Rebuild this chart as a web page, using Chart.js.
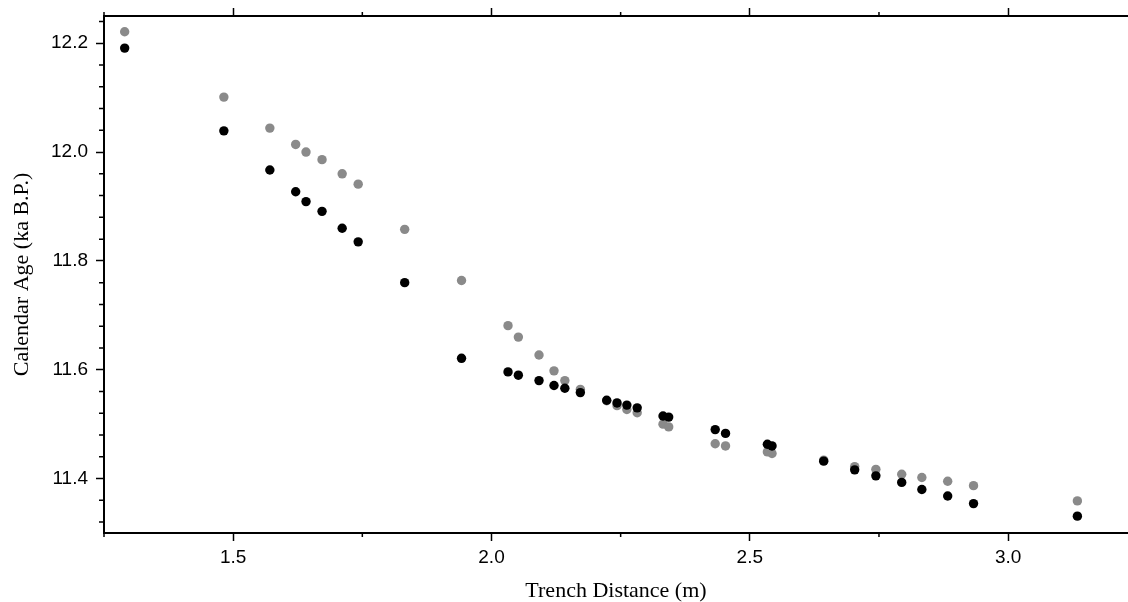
<!DOCTYPE html>
<html>
<head>
<meta charset="utf-8">
<script src="https://cdn.jsdelivr.net/npm/chart.js@4"></script>
<style>
  html, body { margin: 0; padding: 0; background: #fff; }
  #wrap { width: 1128px; height: 602px; position: relative; }
</style>
</head>
<body>
<div id="wrap"><canvas id="chart"></canvas></div>
<script>
// trench distance (m), shared by both series
const distance = [1.290, 1.482, 1.571, 1.621, 1.641, 1.672, 1.711, 1.742, 1.832, 1.942,
  2.032, 2.052, 2.092, 2.121, 2.142, 2.172, 2.223, 2.243, 2.262, 2.282,
  2.332, 2.343, 2.433, 2.453, 2.534, 2.543, 2.643, 2.703, 2.744, 2.794,
  2.833, 2.883, 2.933, 3.134]

// calendar age (ka B.P.)
const ageGray = [12.221, 12.101, 12.044, 12.014, 12.000, 11.986, 11.960, 11.941, 11.858, 11.764,
  11.681, 11.660, 11.627, 11.598, 11.580, 11.564, 11.543, 11.534, 11.527, 11.521,
  11.500, 11.495, 11.464, 11.460, 11.449, 11.446, 11.434, 11.422, 11.417, 11.408,
  11.402, 11.395, 11.387, 11.359]

const ageBlack = [12.191, 12.039, 11.967, 11.927, 11.909, 11.891, 11.860, 11.835, 11.760, 11.621,
  11.596, 11.590, 11.580, 11.571, 11.566, 11.558, 11.544, 11.539, 11.535, 11.530,
  11.515, 11.513, 11.490, 11.483, 11.463, 11.460, 11.432, 11.416, 11.405, 11.393,
  11.380, 11.368, 11.354, 11.331]

// axis ticks
const xTicks = [1.5, 2.0, 2.5, 3.0]
const xMinorTicks = [1.25, 1.75, 2.25, 2.75]
const yTicks = [11.4, 11.6, 11.8, 12.0, 12.2]
const yMinorTicks = [11.32, 11.36, 11.44, 11.48, 11.52, 11.56, 11.64, 11.68, 11.72, 11.76,
  11.84, 11.88, 11.92, 11.96, 12.04, 12.08, 12.12, 12.16, 12.24]

const X_MIN = 1.25, X_MAX = 3.232
const Y_MIN = 11.30, Y_MAX = 12.25

const toPoints = ys => distance.map((x, i) => ({ x, y: ys[i] }))

const tickFont = { family: 'Liberation Sans', size: 19 }
const titleFont = { family: 'Liberation Serif', size: 22, lineHeight: 1 }

// small ticks between the labelled ones
const minorTicks = {
  id: 'minorTicks',
  afterDraw(chart) {
    const { ctx, chartArea, scales } = chart
    ctx.save()
    ctx.strokeStyle = '#000'
    ctx.lineWidth = 1.5
    ctx.beginPath()
    xMinorTicks.forEach(v => {
      const px = scales.x.getPixelForValue(v)
      ctx.moveTo(px, chartArea.bottom)
      ctx.lineTo(px, chartArea.bottom + 4)
      ctx.moveTo(px, chartArea.top)
      ctx.lineTo(px, chartArea.top - 4)
    })
    yMinorTicks.forEach(v => {
      const py = scales.y.getPixelForValue(v)
      ctx.moveTo(chartArea.left, py)
      ctx.lineTo(chartArea.left - 5, py)
    })
    ctx.stroke()
    ctx.restore()
  }
}

const setTicks = list => scale => { scale.ticks = list.map(value => ({ value })) }

// fixed axis sizes, no extra room for label overhang
const fixSize = (w, h) => scale => {
  if (w !== null) scale.width = w
  if (h !== null) scale.height = h
  scale.paddingTop = 0
  scale.paddingBottom = 0
  scale.paddingLeft = 0
  scale.paddingRight = 0
}

const config = {
  type: 'scatter',
  data: {
    datasets: [
      {
        label: 'black',
        data: toPoints(ageBlack),
        backgroundColor: '#000',
        borderWidth: 0,
        pointRadius: 4.7,
        order: 0
      },
      {
        label: 'gray',
        data: toPoints(ageGray),
        backgroundColor: 'rgb(138,138,138)',
        borderWidth: 0,
        pointRadius: 4.7,
        order: 1
      }
    ]
  },
  options: {
    responsive: true,
    maintainAspectRatio: false,
    animation: false,
    layout: { padding: 0, autoPadding: false },
    plugins: {
      legend: { display: false },
      tooltip: { enabled: false }
    },
    scales: {
      x: {
        type: 'linear',
        position: 'bottom',
        min: X_MIN,
        max: X_MAX,
        afterBuildTicks: setTicks(xTicks),
        afterFit: fixSize(null, 69),
        ticks: {
          font: tickFont,
          color: '#000',
          padding: 5,
          maxRotation: 0,
          callback: v => v.toFixed(1)
        },
        grid: { drawOnChartArea: false, drawTicks: true, tickLength: 8, tickWidth: 1.5, tickColor: '#000' },
        border: { display: true, color: '#000', width: 2 },
        title: { display: true, text: 'Trench Distance (m)', font: titleFont, color: '#000', padding: { top: 0, bottom: 0 } }
      },
      x2: {
        type: 'linear',
        position: 'top',
        min: X_MIN,
        max: X_MAX,
        afterBuildTicks: setTicks(xTicks),
        afterFit: fixSize(null, 16),
        ticks: { display: false },
        grid: { drawOnChartArea: false, drawTicks: true, tickLength: 8, tickWidth: 1.5, tickColor: '#000' },
        border: { display: true, color: '#000', width: 2 }
      },
      y: {
        type: 'linear',
        position: 'left',
        min: Y_MIN,
        max: Y_MAX,
        afterBuildTicks: setTicks(yTicks),
        afterFit: fixSize(104, null),
        ticks: {
          font: tickFont,
          color: '#000',
          padding: 8,
          callback: v => v.toFixed(1)
        },
        grid: { drawOnChartArea: false, drawTicks: true, tickLength: 8, tickWidth: 1.5, tickColor: '#000' },
        border: { display: true, color: '#000', width: 2 },
        title: { display: true, text: 'Calendar Age (ka B.P.)', font: titleFont, color: '#000', padding: { top: 11, bottom: 0 } }
      }
    }
  },
  plugins: [minorTicks]
}

document.addEventListener('DOMContentLoaded', () => {
  const ctx = document.getElementById('chart').getContext('2d')
  new Chart(ctx, config)
})
</script>
</body>
</html>
